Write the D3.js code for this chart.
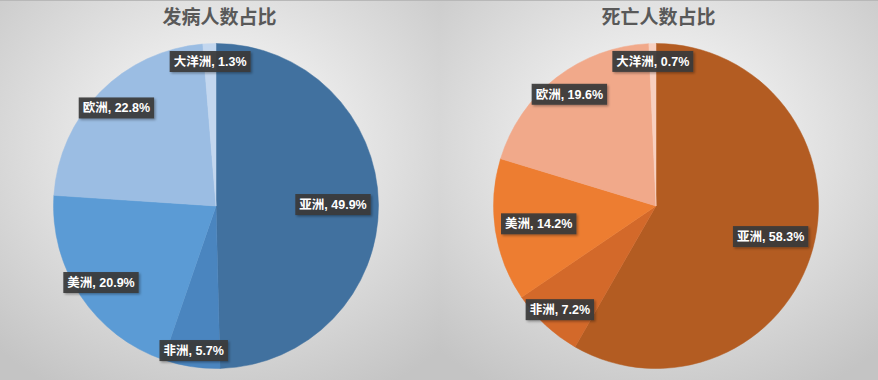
<!DOCTYPE html>
<html><head><meta charset="utf-8">
<script src="https://cdn.jsdelivr.net/npm/d3@7/dist/d3.min.js"></script>
<style>
html,body{margin:0;padding:0;background:#fff;}
svg{display:block;}
</style></head>
<body>
<svg id="c" width="878" height="380"></svg>
<script>
const categories = ["亚洲", "非洲", "美洲", "欧洲", "大洋洲"];
const incidenceValues = [49.9, 5.7, 20.9, 22.8, 1.3];
const deathValues = [58.3, 7.2, 14.2, 19.6, 0.7];
const titles = ["发病人数占比", "死亡人数占比"];

const blueColors = ["#41719f", "#4a85bf", "#5b9bd5", "#9bbde3", "#c3d7ef"];
const orangeColors = ["#b35c22", "#d3692a", "#ed7d31", "#f1a98a", "#f8d0c0"];

const svg = d3.select("#c");
const defs = svg.append("defs");
const grad = defs.append("radialGradient").attr("id","bg")
  .attr("cx","50%").attr("cy","38%").attr("r","74%");
grad.append("stop").attr("offset","0%").attr("stop-color","#ffffff");
grad.append("stop").attr("offset","100%").attr("stop-color","#c4c4c4");
const sh = defs.append("filter").attr("id","sh").attr("x","-20%").attr("y","-40%").attr("width","150%").attr("height","200%");
sh.append("feDropShadow").attr("dx",1.5).attr("dy",1.5).attr("stdDeviation",1.2).attr("flood-color","#000").attr("flood-opacity",0.35);

const panelW = 439, H = 380, R = 162.5;
const charts = [
  {values: incidenceValues, colors: blueColors, title: titles[0], cx: 216, cy: 206,
   lr: [0.72, 0.90, 0.85, 0.86, 0.89]},
  {values: deathValues, colors: orangeColors, title: titles[1], cx: 217, cy: 206,
   lr: [0.73, 0.87, 0.73, 0.87, 0.89]}
];
const labelFont = "'Liberation Sans', 'Noto Sans CJK SC', sans-serif";

charts.forEach((c, i) => {
  const g = svg.append("g").attr("transform", `translate(${i*panelW},0)`);
  g.append("rect").attr("x",0).attr("y",0).attr("width",panelW).attr("height",H)
    .attr("fill","url(#bg)");
  g.append("line").attr("x1",0).attr("x2",panelW).attr("y1",0.5).attr("y2",0.5)
    .attr("stroke","#b8b8b8");
  g.append("text").attr("x", panelW/2).attr("y", 24).attr("text-anchor","middle")
    .attr("font-family","'Noto Sans CJK SC', sans-serif").attr("font-size",19).attr("font-weight","bold")
    .attr("fill","#595959").text(c.title);

  const pie = d3.pie().sort(null).value(d => d.v);
  const data = categories.map((k, j) => ({k, v: c.values[j], j}));
  const arcs = pie(data);
  const arc = d3.arc().innerRadius(0).outerRadius(R);
  const pg = g.append("g").attr("transform", `translate(${c.cx},${c.cy})`);
  pg.selectAll("path.s").data(arcs).join("path").attr("class","s")
    .attr("d", arc).attr("fill", d => c.colors[d.data.j])
    .attr("stroke", d => c.colors[d.data.j]).attr("stroke-width", 0.5);

  arcs.forEach(a => {
    const mid = (a.startAngle + a.endAngle)/2;
    const r = R * c.lr[a.data.j];
    const x = r*Math.sin(mid), y = -r*Math.cos(mid);
    const lg = pg.append("g").attr("transform", `translate(${x},${y})`);
    const t = lg.append("text").attr("text-anchor","middle").attr("dy","0.36em")
      .attr("font-family", labelFont).attr("font-size",12.5).attr("font-weight","bold")
      .attr("fill","#ffffff").text(`${a.data.k}, ${a.data.v.toFixed(1)}%`);
    const bb = t.node().getBBox();
    lg.insert("rect","text").attr("x", bb.x-4).attr("y", -10.5).attr("width", bb.width+8).attr("height", 21)
      .attr("fill","#3a3a3a").attr("fill-opacity",0.92).attr("filter","url(#sh)");
  });
});
</script>
</body></html>
